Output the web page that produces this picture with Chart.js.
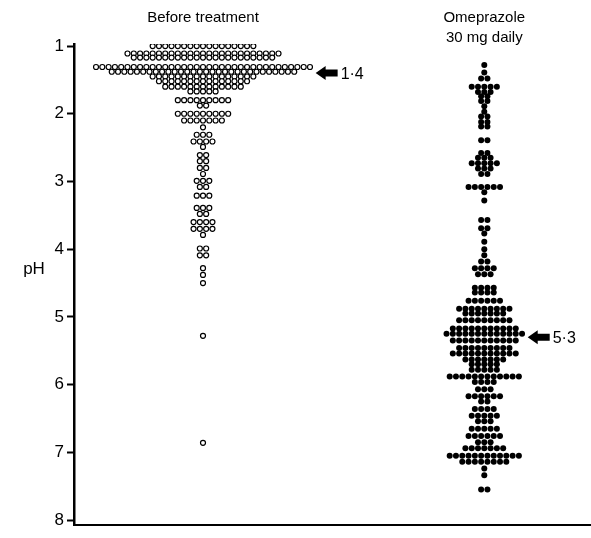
<!DOCTYPE html>
<html>
<head>
<meta charset="utf-8">
<script src="https://cdn.jsdelivr.net/npm/chart.js@4"></script>
<style>
  body { margin: 0; background: #fff; }
  #wrap { width: 591px; height: 538px; }
</style>
</head>
<body>
<div id="wrap"><canvas id="phChart" width="591" height="538"></canvas></div>
<script>
// group headings and y ticks
const groupLabels = [['Before treatment'], ['Omeprazole', '30 mg daily']];
const yTicks = [1, 2, 3, 4, 5, 6, 7, 8];
const medians = [1.4, 5.3];
const medianLabels = ['1·4', '5·3'];

// before treatment: pH of each dot row and how many dots in it
const beforePh = [1.00, 1.11, 1.17, 1.31, 1.38, 1.45, 1.52, 1.60, 1.67, 1.80, 1.88, 2.00, 2.10, 2.20, 2.31, 2.41, 2.49, 2.61, 2.70, 2.80, 2.89, 2.99, 3.08, 3.21, 3.39, 3.48, 3.60, 3.70, 3.79, 3.99, 4.09, 4.28, 4.38, 4.50, 5.28, 6.86];
const beforeCount = [17, 25, 23, 35, 30, 17, 15, 13, 5, 9, 2, 9, 7, 1, 3, 4, 1, 2, 2, 2, 1, 3, 2, 3, 3, 2, 4, 4, 1, 2, 2, 1, 1, 1, 1, 1];

// omeprazole 30 mg daily
const omePh = [1.28, 1.39, 1.48, 1.60, 1.68, 1.74, 1.81, 1.89, 1.97, 2.04, 2.12, 2.19, 2.39, 2.58, 2.65, 2.73, 2.81, 2.89, 3.08, 3.16, 3.28, 3.57, 3.69, 3.77, 3.89, 4.00, 4.09, 4.18, 4.28, 4.37, 4.57, 4.64, 4.76, 4.88, 4.95, 5.05, 5.17, 5.25, 5.35, 5.46, 5.54, 5.63, 5.70, 5.78, 5.88, 5.96, 6.07, 6.17, 6.25, 6.36, 6.46, 6.54, 6.65, 6.76, 6.85, 6.94, 7.05, 7.14, 7.24, 7.34, 7.55];
const omeCount = [1, 1, 2, 5, 3, 2, 2, 1, 1, 2, 2, 2, 2, 2, 3, 5, 3, 2, 6, 1, 1, 2, 2, 1, 1, 1, 1, 2, 4, 3, 4, 4, 6, 9, 7, 9, 11, 13, 11, 9, 11, 7, 5, 5, 12, 4, 3, 6, 2, 4, 5, 3, 5, 6, 3, 7, 12, 8, 1, 1, 2];

// x axis is in "dot widths"; each group has a centre column
const centres = [20.5, 65.2];

function rowsToPoints(phs, counts, centre) {
    const pts = [];
    phs.forEach((ph, r) => {
        const n = counts[r];
        for (let i = 0; i < n; i++) {
            pts.push({ x: centre + i - (n - 1) / 2, y: ph });
        }
    });
    return pts;
}

const FONT = '"Liberation Sans", Arial, sans-serif';

const annotate = {
    id: 'annotate',
    afterDraw(chart) {
        const ctx = chart.ctx;
        const xs = chart.scales.x, ys = chart.scales.y;
        ctx.save();
        ctx.fillStyle = '#000';

        // headings above each column
        ctx.font = '15px ' + FONT;
        ctx.textAlign = 'center';
        ctx.textBaseline = 'middle';
        groupLabels.forEach((lines, g) => {
            const cx = xs.getPixelForValue(centres[g]);
            lines.forEach((t, k) => ctx.fillText(t, cx, 18 + k * 20));
        });

        // horizontal "pH" axis label
        ctx.font = '17px ' + FONT;
        ctx.fillText('pH', 34, ys.getPixelForValue(4.3));

        // median arrows
        const maxCounts = [Math.max(...beforeCount), Math.max(...omeCount)];
        medians.forEach((m, g) => {
            const tip = xs.getPixelForValue(centres[g] + (maxCounts[g] - 1) / 2 + 0.9);
            const y = ys.getPixelForValue(m);
            ctx.beginPath();
            ctx.moveTo(tip, y);
            ctx.lineTo(tip + 10, y - 7);
            ctx.lineTo(tip + 10, y - 3.5);
            ctx.lineTo(tip + 22, y - 3.5);
            ctx.lineTo(tip + 22, y + 3.5);
            ctx.lineTo(tip + 10, y + 3.5);
            ctx.lineTo(tip + 10, y + 7);
            ctx.closePath();
            ctx.fill();
            ctx.font = '16px ' + FONT;
            ctx.textAlign = 'left';
            ctx.fillText(medianLabels[g], tip + 25, y + 1);
        });
        ctx.restore();
    }
};

new Chart(document.getElementById('phChart'), {
    type: 'scatter',
    data: {
        datasets: [
            {
                label: 'Before treatment',
                data: rowsToPoints(beforePh, beforeCount, centres[0]),
                pointStyle: 'circle',
                pointRadius: 2.5,
                pointBackgroundColor: '#fff',
                pointBorderColor: '#000',
                pointBorderWidth: 1.2
            },
            {
                label: 'Omeprazole 30 mg daily',
                data: rowsToPoints(omePh, omeCount, centres[1]),
                pointStyle: 'circle',
                pointRadius: 3.0,
                pointBackgroundColor: '#000',
                pointBorderWidth: 0
            }
        ]
    },
    options: {
        responsive: false,
        animation: false,
        layout: { autoPadding: false, padding: { top: 44, right: 1, left: 0, bottom: 0 } },
        plugins: { legend: { display: false }, tooltip: { enabled: false } },
        scales: {
            x: {
                type: 'linear',
                min: 0,
                max: 82,
                ticks: { display: false },
                grid: { display: false },
                border: { display: true, color: '#000', width: 2 },
                afterFit(scale) { scale.height = 6; }
            },
            y: {
                type: 'linear',
                reverse: true,
                min: 0.97,
                max: 8.07,
                afterBuildTicks(scale) { scale.ticks = yTicks.map(v => ({ value: v })); },
                ticks: {
                    color: '#000',
                    font: { family: FONT, size: 17 },
                    padding: 3
                },
                grid: {
                    drawOnChartArea: false,
                    drawTicks: true,
                    tickLength: 7,
                    tickWidth: 2,
                    color: '#000'
                },
                border: { display: true, color: '#000', width: 2.5 },
                afterFit(scale) { scale.width = 74; }
            }
        }
    },
    plugins: [annotate]
});
</script>
</body>
</html>
